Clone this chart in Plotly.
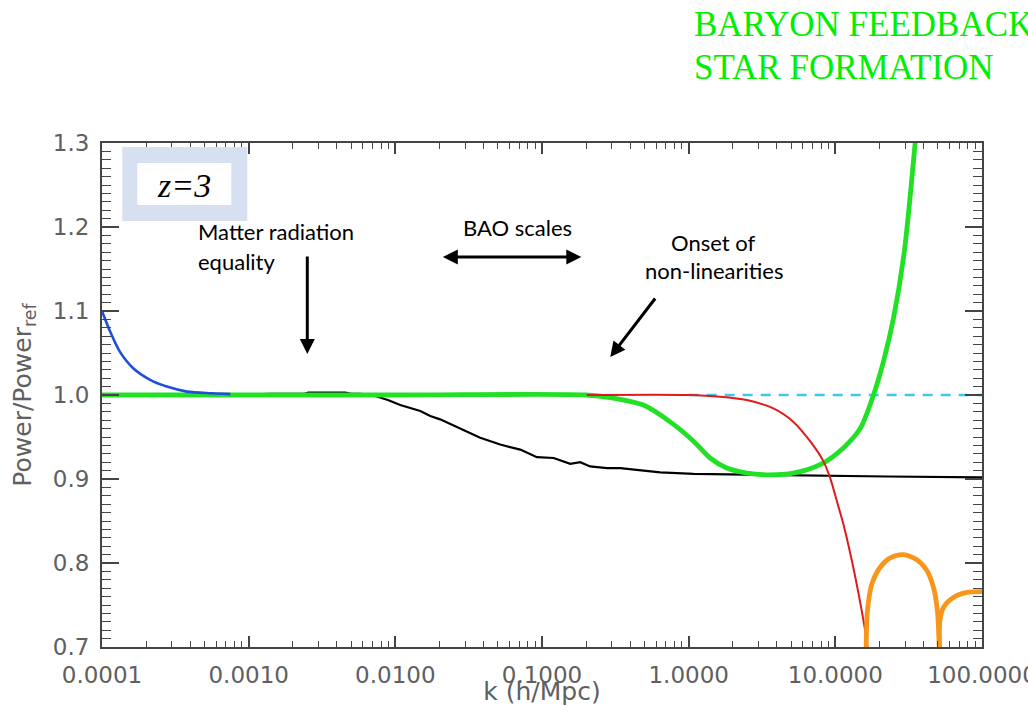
import plotly.graph_objects as go

# ---------------- data ----------------
x_tick_vals = [1e-4, 1e-3, 1e-2, 1e-1, 1e0, 1e1, 1e2]
x_tick_text = ["0.0001", "0.0010", "0.0100", "0.1000", "1.0000", "10.0000", "100.0000"]
y_tick_vals = [0.7, 0.8, 0.9, 1.0, 1.1, 1.2, 1.3]
y_tick_text = ["0.7", "0.8", "0.9", "1.0", "1.1", "1.2", "1.3"]

blue_k = [1.00e-4, 1.14e-4, 1.33e-4, 1.64e-4, 2.13e-4, 2.77e-4, 3.80e-4, 5.60e-4, 7.50e-4]
blue_r = [1.100, 1.075, 1.051, 1.0315, 1.018, 1.010, 1.004, 1.002, 1.001]

black_k = [7.9e-4, 1.40e-3, 2.40e-3, 2.55e-3, 4.55e-3, 5.0e-3, 5.77e-3, 6.92e-3, 8.9e-3,
           1.08e-2, 1.48e-2, 1.73e-2, 2.02e-2, 2.77e-2, 3.79e-2, 5.19e-2, 7.11e-2,
           9.23e-2, 1.20e-1, 1.56e-1, 1.82e-1, 2.13e-1, 2.77e-1, 3.41e-1, 6.40e-1,
           1.08, 2.37, 5.18, 22.4, 100.0]
black_r = [1.000, 1.0015, 1.0015, 1.003, 1.003, 1.0015, 1.0015, 1.000, 0.994,
           0.988, 0.981, 0.975, 0.971, 0.960, 0.949, 0.941, 0.935,
           0.926, 0.925, 0.918, 0.920, 0.915, 0.913, 0.913, 0.908,
           0.906, 0.905, 0.904, 0.903, 0.902]

cyan_k = [1.0, 100.0]
cyan_r = [1.0, 1.0]

green_k = [1.0e-4, 1.0e-2, 0.20, 0.292, 0.492, 0.748, 1.08, 1.40, 1.82, 2.49, 3.41,
           5.18, 7.87, 11.35, 14.76, 18.2, 21.3, 24.9, 29.5, 35.0, 40.0]
green_r = [1.000, 1.000, 1.000, 0.997, 0.988, 0.968, 0.945, 0.925, 0.913, 0.907, 0.905,
           0.907, 0.917, 0.937, 0.960, 1.000, 1.040, 1.091, 1.170, 1.300, 1.420]

red_k = [0.202, 1.0, 1.64, 2.49, 3.78, 5.18, 6.73, 8.30, 9.23, 10.23, 11.48, 12.88,
         14.45, 16.22, 16.8]
red_r = [1.000, 1.000, 0.998, 0.994, 0.984, 0.968, 0.945, 0.921, 0.901, 0.874, 0.843,
         0.805, 0.762, 0.712, 0.690]

orange_k = [16.2, 16.56, 17.74, 20.23, 23.66, 29.1, 35.97, 42.07, 46.67, 49.66, 51.3, None,
            51.5, 51.6, 54.6, 63.8, 78.7, 102.3]
orange_r = [0.690, 0.743, 0.775, 0.795, 0.806, 0.810, 0.804, 0.791, 0.771, 0.743, 0.690, None,
            0.690, 0.731, 0.747, 0.759, 0.765, 0.766]

# ---------------- geometry helpers (pixel -> paper) ----------------
W, H = 1028, 706
L, R, T, B = 101.7, 981.7, 143.0, 647.0


def px(x):
    return (x - L) / (R - L)


def py(y):
    return (B - y) / (B - T)


GREY = "#606060"
AXC = "#444444"

fig = go.Figure()
fig.add_trace(go.Scatter(x=cyan_k, y=cyan_r, mode="lines",
                         line=dict(color="#3fc8ec", width=2.5, dash="10px,8px"), hoverinfo="skip"))
fig.add_trace(go.Scatter(x=black_k, y=black_r, mode="lines",
                         line=dict(color="#000000", width=2.2), hoverinfo="skip"))
fig.add_trace(go.Scatter(x=green_k, y=green_r, mode="lines",
                         line=dict(color="#22e026", width=4.8, shape="spline", smoothing=0.8),
                         hoverinfo="skip"))
fig.add_trace(go.Scatter(x=blue_k, y=blue_r, mode="lines",
                         line=dict(color="#1f4fd6", width=2.6, shape="spline", smoothing=0.8),
                         hoverinfo="skip"))
fig.add_trace(go.Scatter(x=red_k, y=red_r, mode="lines",
                         line=dict(color="#e01a1a", width=2.0, shape="spline", smoothing=0.8),
                         hoverinfo="skip"))
fig.add_trace(go.Scatter(x=orange_k, y=orange_r, mode="lines", connectgaps=False,
                         line=dict(color="#f8961c", width=4.8, shape="spline", smoothing=0.8),
                         hoverinfo="skip"))

tickfont = dict(family="DejaVu Sans", size=23, color=GREY)

fig.update_xaxes(type="log", range=[-4, 2], tickvals=x_tick_vals, ticktext=x_tick_text,
                 ticks="inside", ticklen=11, tickwidth=1.5, tickcolor=AXC,
                 showline=True, linewidth=2, linecolor=AXC, mirror="ticks",
                 showgrid=False, zeroline=False, tickfont=tickfont, ticklabelstandoff=6,
                 ticklabeloverflow="allow",
                 minor=dict(ticks="inside", ticklen=6, tickwidth=1.3, tickcolor=AXC,
                            dtick="D1", showgrid=False),
                 title=dict(text="k (h/Mpc)", font=dict(family="DejaVu Sans", size=25, color=GREY),
                            standoff=6))
fig.update_yaxes(range=[0.7, 1.3], tickvals=y_tick_vals, ticktext=y_tick_text,
                 ticks="inside", ticklen=17, tickwidth=1.5, tickcolor=AXC,
                 showline=True, linewidth=2, linecolor=AXC, mirror="ticks",
                 showgrid=False, zeroline=False, tickfont=tickfont, ticklabelstandoff=6,
                 minor=dict(ticks="inside", ticklen=9, tickwidth=1.3, tickcolor=AXC,
                            dtick=0.01, showgrid=False),
                 title=dict(text="Power/Power<sub>ref</sub>",
                            font=dict(family="DejaVu Sans", size=25, color=GREY), standoff=14))

shapes = [
    dict(type="rect", xref="paper", yref="paper", x0=px(122), x1=px(247), y0=py(221), y1=py(147),
         fillcolor="#d7e0f1", line=dict(width=0), layer="above"),
    dict(type="rect", xref="paper", yref="paper", x0=px(137), x1=px(231), y0=py(205), y1=py(163),
         fillcolor="#ffffff", line=dict(width=0), layer="above"),
]

txt = dict(family="Lato", size=22, color="#000000")
serif_green = dict(family="Liberation Serif", size=35, color="#00ee00")


def label(text, x, y, font, xanchor="center"):
    return dict(text=text, x=px(x), y=py(y), xref="paper", yref="paper", showarrow=False,
                xanchor=xanchor, yanchor="middle", font=font)


def arrow(tip_x, tip_y, tail_x, tail_y, both=False):
    a = dict(text="", x=px(tip_x), y=py(tip_y), xref="paper", yref="paper",
             ax=tail_x - tip_x, ay=tail_y - tip_y, showarrow=True,
             arrowhead=2, arrowsize=1, arrowwidth=3, arrowcolor="#000000", standoff=0)
    if both:
        a.update(arrowside="end+start", startarrowhead=2, startarrowsize=1, startstandoff=0)
    return a


annotations = [
    label("z=3", 184, 185, dict(family="Liberation Serif", size=34, color="#000000", style="italic")),
    label("Matter radiation", 196, 231, txt, "left"),
    label("equality", 196, 261, txt, "left"),
    label("BAO scales", 517, 227, txt),
    label("Onset of", 713, 242, txt),
    label("non-linearities", 714, 270, txt),
    label("BARYON FEEDBACK", 692, 25, serif_green, "left"),
    label("STAR FORMATION", 692, 67, serif_green, "left"),
    arrow(307, 354, 307, 255),
    arrow(581, 257, 441, 257, both=True),
    arrow(610, 357, 656, 297),
]

fig.update_layout(width=W, height=H, margin=dict(l=L, r=W - R, t=T, b=H - B, autoexpand=False),
                  paper_bgcolor="#ffffff", plot_bgcolor="#ffffff", showlegend=False,
                  shapes=shapes, annotations=annotations)

fig.write_html("out.html")
